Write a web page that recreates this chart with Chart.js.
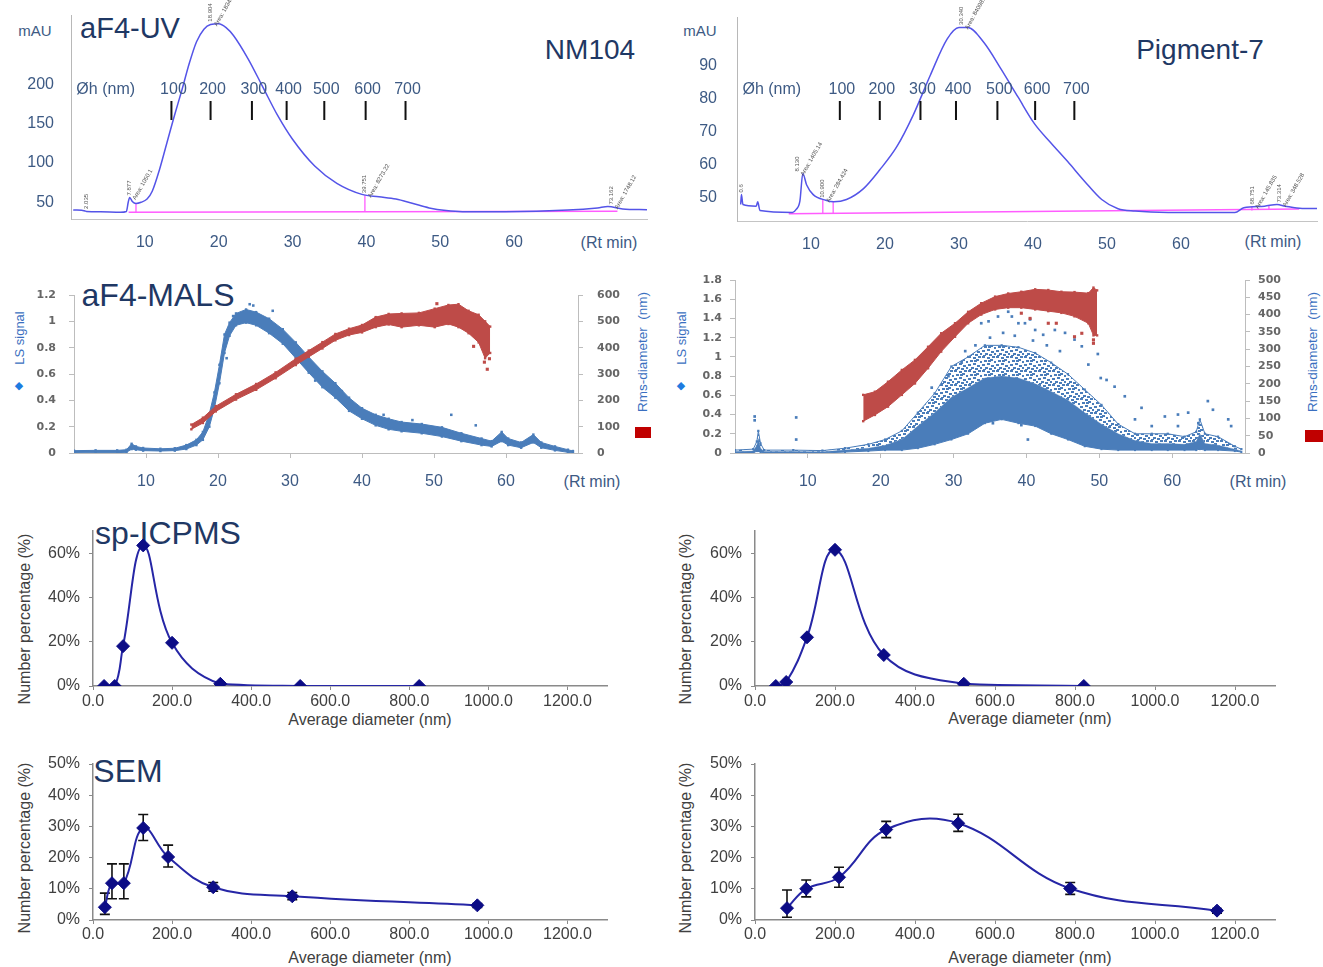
<!DOCTYPE html>
<html><head><meta charset="utf-8"><title>aF4-UV / aF4-MALS / sp-ICPMS / SEM</title>
<script src="https://cdn.jsdelivr.net/npm/chart.js@4.4.1/dist/chart.umd.min.js"></script>
<style>
html,body{margin:0;padding:0;background:#fff}
body{position:relative;width:1323px;height:967px;overflow:hidden;font-family:"Liberation Sans",Arial,Helvetica,sans-serif}
canvas{position:absolute}
.lbl{position:absolute;white-space:nowrap;line-height:1;transform:translate(-50%,-50%)}
.rot{transform:translate(-50%,-50%) rotate(-90deg)}
.ttl{color:#1f3864}
.ax{color:#3d5a84;font-size:16px}
.gt{color:#404040;font-size:16px}
.sw{position:absolute;background:#c00000}
</style></head><body>

<div class="lbl ax" style="left:35px;top:30px;font-size:15px">mAU</div>
<div class="lbl ttl" style="left:130px;top:28px;font-size:29px">aF4-UV</div>
<div class="lbl ttl" style="left:590px;top:50px;font-size:28px">NM104</div>
<div class="lbl ax" style="left:609px;top:243px">(Rt min)</div>

<div class="lbl ax" style="left:700px;top:30px;font-size:15px">mAU</div>
<div class="lbl ttl" style="left:1200px;top:50px;font-size:28px">Pigment-7</div>
<div class="lbl ax" style="left:1273px;top:242px">(Rt min)</div>

<div class="lbl ttl" style="left:158px;top:295px;font-size:32px">aF4-MALS</div>
<div class="lbl ax" style="left:592px;top:482px">(Rt min)</div>
<div class="lbl rot" style="left:19px;top:338px;font-size:13px;color:#3a6fc0">LS signal</div>
<div class="lbl" style="left:19px;top:385px;font-size:11px;color:#1e7be0;font-family:'DejaVu Sans'">◆</div>
<div class="lbl rot" style="left:643px;top:352px;font-size:13.5px;color:#3a6fc0">Rms-diameter&nbsp; (nm)</div>
<div class="sw" style="left:635px;top:427px;width:16px;height:11px"></div>

<div class="lbl ax" style="left:1258px;top:482px">(Rt min)</div>
<div class="lbl rot" style="left:681px;top:338px;font-size:13px;color:#3a6fc0">LS signal</div>
<div class="lbl" style="left:681px;top:385px;font-size:11px;color:#1e7be0;font-family:'DejaVu Sans'">◆</div>
<div class="lbl rot" style="left:1313px;top:352px;font-size:13.5px;color:#3a6fc0">Rms-diameter&nbsp; (nm)</div>
<div class="sw" style="left:1305px;top:430px;width:18px;height:12px"></div>

<div class="lbl ttl" style="left:168px;top:533px;font-size:32px">sp-ICPMS</div>
<div class="lbl rot gt" style="left:25px;top:619px">Number percentage (%)</div>
<div class="lbl gt" style="left:370px;top:720px">Average diameter (nm)</div>
<div class="lbl rot gt" style="left:686px;top:619px">Number percentage (%)</div>
<div class="lbl gt" style="left:1030px;top:719px">Average diameter (nm)</div>

<div class="lbl ttl" style="left:128px;top:771px;font-size:32px">SEM</div>
<div class="lbl rot gt" style="left:25px;top:848px">Number percentage (%)</div>
<div class="lbl gt" style="left:370px;top:958px">Average diameter (nm)</div>
<div class="lbl rot gt" style="left:686px;top:848px">Number percentage (%)</div>
<div class="lbl gt" style="left:1030px;top:958px">Average diameter (nm)</div>

<script>
// ================= DATA =================
// --- aF4-UV (retention time min, mAU) ---
const rtTicks = [10, 20, 30, 40, 50, 60];
const uvTicksNM104 = [50, 100, 150, 200];
const uvTicksPig = [50, 60, 70, 80, 90];
const ohSizes = [100, 200, 300, 400, 500, 600, 700];
const ohRtNM104 = [13.6, 18.9, 24.5, 29.2, 34.3, 39.9, 45.3];
const ohRtPig = [13.9, 19.3, 24.8, 29.6, 35.2, 40.3, 45.6];
const uvNM104 = [[0.3,40.2],[1.9,39],[2.1,38.2],[4,37.8],[6.7,37.3],[7.5,38.3],[7.75,50],[7.95,56],[8.3,51],[8.8,48.5],[9.5,50],[10.3,54],[11,64],[12,92],[13,126],[14,160],[15,192],[16,226],[17,254],[18,270],[18.9,276],[20,277],[21,272],[22,262],[24,232],[26,196],[28,160],[30,130],[33,96],[36,74],[39.4,60],[41.7,57],[44,54],[46.2,48.7],[48.5,42.8],[50.8,39.4],[53,38],[58.8,38],[67.3,40],[71.3,42.8],[72.7,44.5],[74.7,41.5],[78,40.6]];
const uvPig = [[0.5,48],[0.6,51],[0.8,48],[2.6,47.5],[2.8,48.8],[3.1,46.2],[7.5,45.6],[8.0,46.5],[8.5,49],[8.9,57.4],[9.4,54],[10.3,51],[12,49.3],[13.1,48.8],[14.8,49.5],[17.1,52.8],[19.3,58.5],[21.6,65.5],[23.8,75],[26.1,87],[28.4,98.1],[30,101.6],[31.2,101.6],[33.4,97],[35.7,89],[38,80.5],[40.2,72.5],[42.5,66.5],[44.7,61],[47,55],[49.3,49.5],[51.5,46.7],[53.8,46],[58.3,45.6],[67.3,45.6],[68.5,47],[71.3,47.5],[73,48],[74.1,47.5],[76.4,46.8],[78.4,46.8]];
const uvBaseNM104 = [[7.8,37.2],[74,38.6]];
const uvDropsNM104 = [[8.8,37.2,48.5],[39.8,37.8,59]];
const uvBasePig = [[7,45.2],[76,46.6]];
const uvDropsPig = [[11.6,45.3,49.4],[13.0,45.35,48.9],[69.6,46.2,47.4],[71.9,46.3,47.7]];
const peaksNM104 = [[2.035,39,'2.035',''],[7.877,56,'7.877','Area: 1050.1'],[18.904,277,'18.904','Area: 18340'],[39.751,59,'39.751','Area: 8273.22'],[73.162,44.5,'73.162','Area: 1748.12']];
const peaksPig = [[0.6,51,'0.6',''],[8.13,57.4,'8.130','Area: 1405.14'],[11.6,49.4,'10.900','Area: 284.424'],[30.34,101.8,'30.340','Area: 84098.8'],[69.6,47.4,'68.751','Area: 145.835'],[73.3,48,'73.314','Area: 348.528']];

// --- aF4-MALS: [t, low, high] ---
const lsTicksNM104 = [0, 0.2, 0.4, 0.6, 0.8, 1, 1.2];
const rmsTicksNM104 = [0, 100, 200, 300, 400, 500, 600];
const lsTicksPig = [0, 0.2, 0.4, 0.6, 0.8, 1, 1.2, 1.4, 1.6, 1.8];
const rmsTicksPig = [0, 50, 100, 150, 200, 250, 300, 350, 400, 450, 500];
const lsNM104 = [[0,0.0,0.018],[3,0.003,0.02],[6,0.003,0.02],[7.3,0.005,0.025],[8,0.03,0.07],[8.6,0.025,0.05],[9.6,0.018,0.038],[12,0.015,0.032],[14,0.018,0.036],[15.6,0.03,0.06],[17,0.06,0.1],[17.9,0.1,0.16],[18.8,0.2,0.3],[19.5,0.34,0.46],[20.2,0.53,0.67],[20.9,0.76,0.9],[21.6,0.89,0.99],[22.5,0.97,1.06],[23.9,0.99,1.09],[25.3,0.97,1.07],[27.1,0.91,1.02],[29,0.83,0.94],[30.8,0.72,0.84],[32.6,0.61,0.73],[34.5,0.5,0.62],[36.3,0.42,0.53],[38.2,0.32,0.42],[40,0.26,0.34],[41.9,0.21,0.29],[43.7,0.18,0.26],[45.5,0.165,0.235],[48.3,0.15,0.22],[51.1,0.125,0.195],[53.8,0.09,0.15],[56.6,0.06,0.11],[58,0.05,0.09],[59.4,0.09,0.16],[60.3,0.06,0.11],[62.1,0.04,0.08],[63.8,0.08,0.14],[64.9,0.04,0.08],[66.8,0.02,0.05],[68.6,0.005,0.025],[69.3,0.0,0.015]];
const lsOutNM104 = [[24.4,1.13],[24.9,1.12],[27.6,1.08],[52.4,0.29],[55.8,0.21],[21.2,0.72],[22.1,1.04],[33.5,0.55],[37.2,0.47],[43,0.29],[47,0.25]];
const rmsNM104 = [[16.3,90,108],[17.9,114,134],[19.7,158,178],[22.5,203,223],[25.3,240,262],[28,284,306],[30.8,334,358],[32.6,365,389],[34.5,397,421],[36.3,428,452],[38.2,448,472],[40,458,486],[41.9,478,516],[43.7,488,528],[45.5,478,530],[47.9,485,532],[50.1,478,548],[52,490,562],[53.4,478,565],[54.8,455,540],[56.2,420,525],[57.1,360,500],[57.8,380,480]];
const rmsOutNM104 = [[50.4,567],[57,345],[57.4,318],[57.7,358],[55.5,405]];
// Pigment-7 LS: [t, low, dense-core top, high]
const lsPig = [[0,0.0,0.015,0.03],[2.5,0.0,0.02,0.04],[3.0,0.02,0.08,0.12],[3.2,0.02,0.15,0.23],[3.5,0.01,0.05,0.1],[4,0.0,0.015,0.03],[8,0.0,0.015,0.03],[12,0.0,0.012,0.025],[15.1,0.01,0.03,0.05],[18.3,0.02,0.05,0.09],[20.6,0.03,0.08,0.14],[22.9,0.03,0.14,0.23],[25.1,0.05,0.28,0.42],[27.4,0.09,0.42,0.62],[29.7,0.14,0.58,0.9],[32,0.2,0.68,1.0],[34.3,0.31,0.78,1.12],[36.6,0.35,0.8,1.12],[38.9,0.31,0.78,1.1],[41.2,0.28,0.72,1.04],[43.4,0.2,0.64,0.94],[45.7,0.14,0.55,0.82],[48,0.07,0.42,0.66],[50.3,0.04,0.3,0.5],[52.6,0.03,0.2,0.3],[54.9,0.03,0.13,0.2],[57.2,0.03,0.1,0.2],[59.4,0.03,0.1,0.2],[61.7,0.03,0.09,0.17],[63.3,0.03,0.12,0.22],[63.8,0.04,0.2,0.35],[64.5,0.03,0.1,0.2],[66.3,0.03,0.08,0.17],[68.6,0.02,0.04,0.07],[69.5,0.01,0.02,0.04]];
const lsOutPig = [[2.7,0.38],[2.7,0.34],[8.4,0.37],[8.4,0.14],[33.8,1.35],[34.8,1.37],[36.1,1.42],[37.5,1.47],[38,1.42],[38.9,1.35],[39.8,1.35],[40.5,1.39],[41.2,1.28],[42.3,1.23],[43.9,1.28],[45.3,1.25],[46.6,1.18],[47.6,1.11],[49.8,1.03],[51,0.76],[52.1,0.69],[53.5,0.59],[55.8,0.47],[59,0.38],[60.8,0.4],[62.2,0.42],[64.9,0.54],[65.6,0.45],[67.7,0.35],[68.1,0.28],[27,0.68],[29.3,0.8],[31.1,0.94],[33.4,0.49],[35.4,0.31],[39.3,0.29],[40.2,0.14],[47.1,0.12],[54.9,0.35],[57.2,0.28],[60.8,0.28],[63.6,0.31],[35,1.2],[36.8,1.25],[38.4,1.22],[40.9,1.17],[42.8,1.12],[44.6,1.06],[48.5,0.92],[50.2,0.78],[31.6,1.06],[33,1.12]];
const rmsPig = [[17.6,92,168],[19.2,110,177],[21,134,206],[22.9,168,240],[24.7,201,269],[26.5,245,307],[28.3,293,346],[30.2,336,375],[32,375,408],[33.8,400,433],[35.7,415,452],[37.5,420,461],[39.3,420,466],[41.2,415,473],[43,410,471],[44.8,405,466],[46.6,395,465],[48.5,375,462],[49.2,340,478],[49.7,340,470]];
const rmsOutPig = [[43,375],[44.1,375],[46.6,336],[47.6,346],[49.2,327],[49.2,317],[39.3,404],[40.5,389]];

// --- sp-ICPMS and SEM size distributions (nm, %) ---
const sizeTicks = [0, 200, 400, 600, 800, 1000, 1200];
const spPctTicks = [0, 20, 40, 60];
const semPctTicks = [0, 10, 20, 30, 40, 50];
const spNM104Dia = [28, 55, 76, 127, 200, 322, 524, 825];
const spNM104Pct = [0, 0, 18, 63.5, 19.5, 1, 0, 0];
const spPigDia = [52, 78, 130, 200, 322, 522, 822];
const spPigPct = [0, 1.8, 22, 61.5, 14, 1, 0];
const semNM104Dia = [30, 48, 78, 127, 190, 304, 504, 972];
const semNM104Pct = [4.1, 11.8, 11.8, 29.5, 20.2, 10.5, 7.6, 4.7];
const semNM104Lo = [1.8, 6.8, 6.8, 25.5, 17, 9.2, 6.5, 4.0];
const semNM104Hi = [8.6, 18, 18, 33.8, 24, 12, 8.8, 5.3];
const semPigDia = [80, 128, 210, 328, 508, 788, 1155];
const semPigPct = [3.8, 10, 13.7, 29, 31, 10.1, 3];
const semPigLo = [0.9, 7.4, 10.5, 26.4, 28.4, 8.2, 2.2];
const semPigHi = [9.6, 12.8, 16.9, 31.6, 33.9, 12, 3.7];

// ================= STYLE =================
const FONT = '"Liberation Sans", Arial, sans-serif';
const C_AXIS = '#3d5a84';
const C_UV = '#5454e8';
const C_PINK = '#ff5cff';
const C_LS = '#4a7dba';
const C_RMS = '#be4b48';
const C_PSD = '#2626a6';
const C_MARK = '#0c0c86';
const C_TXT = '#404040';

// ================= HELPERS =================
function place(rect) {
  const c = document.createElement('canvas');
  c.width = rect.w; c.height = rect.h;
  Object.assign(c.style, {left: rect.x + 'px', top: rect.y + 'px', width: rect.w + 'px', height: rect.h + 'px'});
  document.body.appendChild(c);
  return c;
}
function axis(o) {
  const s = {
    type: 'linear', min: o.min, max: o.max, bounds: 'data',
    afterBuildTicks: sc => { sc.ticks = o.ticks.map(v => ({value: v})); },
    ticks: {color: o.color, font: o.font, padding: o.pad, autoSkip: false, maxRotation: 0, callback: o.fmt || (v => String(v))},
    grid: o.tick ? {display: true, drawOnChartArea: false, drawTicks: true, tickLength: o.tick, color: o.tickColor || '#aaaaaa', lineWidth: 1}
                 : {display: false, drawTicks: false},
    border: o.border ? {display: true, color: o.border, width: o.borderWidth || 1} : {display: false}
  };
  if (o.position) s.position = o.position;
  return s;
}
function makeChart(rect, area, datasets, scales, plugins, pluginOptions) {
  const canvas = place(rect);
  const padRight = scales.y2 ? 0 : rect.x + rect.w - area.r;
  scales.x.afterFit = s => { s.height = rect.y + rect.h - area.b; };
  scales.y.afterFit = s => { s.width = area.l - rect.x; };
  if (scales.y2) scales.y2.afterFit = s => { s.width = rect.x + rect.w - area.r; };
  return new Chart(canvas, {
    type: 'line',
    data: {datasets},
    options: {
      responsive: false, animation: false, devicePixelRatio: 1,
      layout: {padding: {top: area.t - rect.y, right: padRight, left: 0, bottom: 0}},
      plugins: Object.assign({legend: {display: false}, tooltip: {enabled: false}}, pluginOptions || {}),
      scales
    },
    plugins: plugins || []
  });
}
const pts = (rows, k) => rows.map(r => ({x: r[0], y: r[k]}));
function line(data, color, width, extra) {
  return Object.assign({data, borderColor: color, borderWidth: width, pointRadius: 0, fill: false, tension: 0}, extra || {});
}
// speckled fill for the sparse part of the Pigment-7 LS scatter cloud
function speckle(color) {
  const c = document.createElement('canvas'); c.width = 14; c.height = 14;
  const g = c.getContext('2d'); g.fillStyle = color;
  const dots = [[0,0],[5,1],[10,0],[2,4],[8,3],[12,5],[0,8],[5,7],[9,9],[3,11],[7,12],[12,11],[6,4],[1,13]];
  dots.forEach(d => g.fillRect(d[0], d[1], 3, 2));
  return g.createPattern(c, 'repeat');
}

// ---------- plugins ----------
const ohPlugin = {
  id: 'ohMarks',
  afterDatasetsDraw(chart, args, o) {
    const {ctx, chartArea: a, scales: {x}} = chart;
    ctx.save();
    ctx.font = '16px ' + FONT; ctx.textAlign = 'center'; ctx.textBaseline = 'middle';
    ctx.fillStyle = C_AXIS;
    ctx.fillText('Øh (nm)', x.getPixelForValue(o.titleAt), a.top + o.labelY);
    o.sizes.forEach((s, i) => {
      const px = x.getPixelForValue(o.rts[i]);
      ctx.fillStyle = C_AXIS; ctx.fillText(String(s), px + 2, a.top + o.labelY);
      ctx.fillStyle = '#111'; ctx.fillRect(px - 1, a.top + o.labelY + 11, 2, 19);
    });
    ctx.restore();
  }
};
const peakPlugin = {
  id: 'peakTags',
  afterDatasetsDraw(chart, args, o) {
    const {ctx, scales: {x, y}} = chart;
    ctx.save(); ctx.font = '6px ' + FONT; ctx.fillStyle = '#555'; ctx.textAlign = 'left'; ctx.textBaseline = 'middle';
    o.rows.forEach(r => {
      const px = x.getPixelForValue(r[0]), py = y.getPixelForValue(r[1]);
      ctx.save(); ctx.translate(px, py - 2); ctx.rotate(-Math.PI / 2); ctx.fillText(r[2], 0, 0); ctx.restore();
      if (r[3]) { ctx.save(); ctx.translate(px + 5, py + 2); ctx.rotate(-1.05); ctx.fillText(r[3], 0, 0); ctx.restore(); }
    });
    ctx.restore();
  }
};
const errorBarPlugin = {
  id: 'errorBars',
  beforeDatasetsDraw(chart, args, o) {
    const {ctx, scales: {x, y}} = chart;
    ctx.save(); ctx.strokeStyle = '#111'; ctx.lineWidth = 1.6;
    o.x.forEach((d, i) => {
      const px = x.getPixelForValue(d), p1 = y.getPixelForValue(o.lo[i]), p2 = y.getPixelForValue(o.hi[i]);
      ctx.beginPath();
      ctx.moveTo(px, p1); ctx.lineTo(px, p2);
      ctx.moveTo(px - 5, p1); ctx.lineTo(px + 5, p1);
      ctx.moveTo(px - 5, p2); ctx.lineTo(px + 5, p2);
      ctx.stroke();
    });
    ctx.restore();
  }
};

// ================= PANELS =================
// ---- aF4-UV ----
function uvPanel(rect, area, curve, base, drops, yMin, yMax, yTicks, xMax, ohRts, ohTitleAt, peaks, yPad) {
  const ds = [line(curve.map(r => ({x: r[0], y: r[1]})), C_UV, 1.5, {cubicInterpolationMode: 'monotone'})];
  ds.push(line(base.map(r => ({x: r[0], y: r[1]})), C_PINK, 1.5));
  drops.forEach(d => ds.push(line([{x: d[0], y: d[1]}, {x: d[0], y: d[2]}], C_PINK, 1.3)));
  const scales = {
    x: axis({min: 0, max: xMax, ticks: rtTicks, color: C_AXIS, font: {family: FONT, size: 16}, pad: 14, border: '#c4c4c4'}),
    y: axis({min: yMin, max: yMax, ticks: yTicks, color: C_AXIS, font: {family: FONT, size: 16}, pad: yPad, border: '#b8b8b8'})
  };
  return makeChart(rect, area, ds, scales, [ohPlugin, peakPlugin],
    {ohMarks: {sizes: ohSizes, rts: ohRts, titleAt: ohTitleAt, labelY: 90 - area.t}, peakTags: {rows: peaks}});
}
uvPanel({x: 0, y: -20, w: 660, h: 282}, {l: 71, t: 15, r: 647, b: 219}, uvNM104, uvBaseNM104, uvDropsNM104,
  28.7, 288, uvTicksNM104, 78, ohRtNM104, 4.7, peaksNM104, 17);
uvPanel({x: 660, y: -20, w: 663, h: 282}, {l: 737, t: 17, r: 1317, b: 221}, uvPig, uvBasePig, uvDropsPig,
  43, 104.8, uvTicksPig, 78.4, ohRtPig, 4.7, peaksPig, 20);

// ---- aF4-MALS ----
const malsTickFont = {family: '"DejaVu Sans", sans-serif', size: 11, weight: 'bold'};
function edge(rows, k, color, axisId, fill, bg, radius) {
  return line(pts(rows, k), color, 1, {yAxisID: axisId, fill: fill || false, backgroundColor: bg || color,
    pointRadius: radius === undefined ? 1.7 : radius, pointStyle: 'rect', pointBackgroundColor: color, pointBorderWidth: 0});
}
function scatter(rows, color, axisId, r) {
  return {data: rows.map(p => ({x: p[0], y: p[1]})), yAxisID: axisId, showLine: false, pointRadius: r, pointStyle: 'rect',
    pointBackgroundColor: color, pointBorderWidth: 0, borderColor: color};
}
function malsScales(lsMax, lsTicks, rmsMax, rmsTicks, lPad, rPad) {
  return {
    x: axis({min: 0, max: 70, ticks: rtTicks, color: C_AXIS, font: {family: FONT, size: 16}, pad: 14, tick: 5, tickColor: '#bdbdbd', border: '#bdbdbd'}),
    y: axis({min: 0, max: lsMax, ticks: lsTicks, color: '#666', font: malsTickFont, pad: lPad, tick: 5, tickColor: '#bdbdbd', border: '#bdbdbd'}),
    y2: axis({position: 'right', min: 0, max: rmsMax, ticks: rmsTicks, color: '#666', font: malsTickFont, pad: rPad, tick: 5, tickColor: '#bdbdbd', border: '#bdbdbd'})
  };
}
makeChart({x: 0, y: 266, w: 660, h: 234}, {l: 74, t: 295, r: 578, b: 453}, [
  edge(rmsNM104, 2, C_RMS, 'y2'),
  edge(rmsNM104, 1, C_RMS, 'y2', '-1', C_RMS),
  scatter(rmsOutNM104, C_RMS, 'y2', 2.2),
  edge(lsNM104, 2, C_LS, 'y'),
  edge(lsNM104, 1, C_LS, 'y', '-1', C_LS),
  scatter(lsOutNM104, C_LS, 'y', 1.8)
], malsScales(1.2, lsTicksNM104, 600, rmsTicksNM104, 13, 14));

makeChart({x: 660, y: 258, w: 663, h: 242}, {l: 735, t: 280, r: 1245, b: 453}, [
  edge(rmsPig, 2, C_RMS, 'y2'),
  edge(rmsPig, 1, C_RMS, 'y2', '-1', C_RMS),
  scatter(rmsOutPig, C_RMS, 'y2', 2.2),
  edge(lsPig, 3, C_LS, 'y', false, null, 1.6),
  edge(lsPig, 2, 'rgba(74,125,186,0.35)', 'y', '-1', speckle(C_LS), 0),
  edge(lsPig, 1, C_LS, 'y', '-1', C_LS, 1.4),
  scatter(lsOutPig, C_LS, 'y', 1.9)
], malsScales(1.8, lsTicksPig, 500, rmsTicksPig, 8, 8));

// ---- sp-ICPMS & SEM ----
function psdPanel(rect, area, dia, pct, yMax, yTicks, err) {
  const ds = [line(dia.map((d, i) => ({x: d, y: pct[i]})), C_PSD, 2, {tension: 0.4, pointRadius: 6.5, pointStyle: 'rectRot',
    pointBackgroundColor: C_MARK, pointBorderColor: C_MARK, pointBorderWidth: 1})];
  const f = {family: FONT, size: 16};
  const scales = {
    x: axis({min: 0, max: 1300, ticks: sizeTicks, color: C_TXT, font: f, pad: err ? 1 : 2, tick: 4, tickColor: '#8a8a8a', border: '#8a8a8a', borderWidth: 1.5, fmt: v => v.toFixed(1)}),
    y: axis({min: 0, max: yMax, ticks: yTicks, color: C_TXT, font: f, pad: 9, tick: 4, tickColor: '#8a8a8a', border: '#8a8a8a', borderWidth: 1.5, fmt: v => v + '%'})
  };
  return makeChart(rect, area, ds, scales, err ? [errorBarPlugin] : [], err ? {errorBars: err} : {});
}
psdPanel({x: 0, y: 508, w: 660, h: 222}, {l: 93, t: 531, r: 607, b: 686}, spNM104Dia, spNM104Pct, 70, spPctTicks, null);
psdPanel({x: 660, y: 508, w: 663, h: 222}, {l: 755, t: 531, r: 1275, b: 686}, spPigDia, spPigPct, 70, spPctTicks, null);
psdPanel({x: 0, y: 740, w: 660, h: 213}, {l: 93, t: 764, r: 607, b: 920}, semNM104Dia, semNM104Pct, 50, semPctTicks,
  {x: semNM104Dia, lo: semNM104Lo, hi: semNM104Hi});
psdPanel({x: 660, y: 740, w: 663, h: 213}, {l: 755, t: 764, r: 1275, b: 920}, semPigDia, semPigPct, 50, semPctTicks,
  {x: semPigDia, lo: semPigLo, hi: semPigHi});
</script>
</body></html>
